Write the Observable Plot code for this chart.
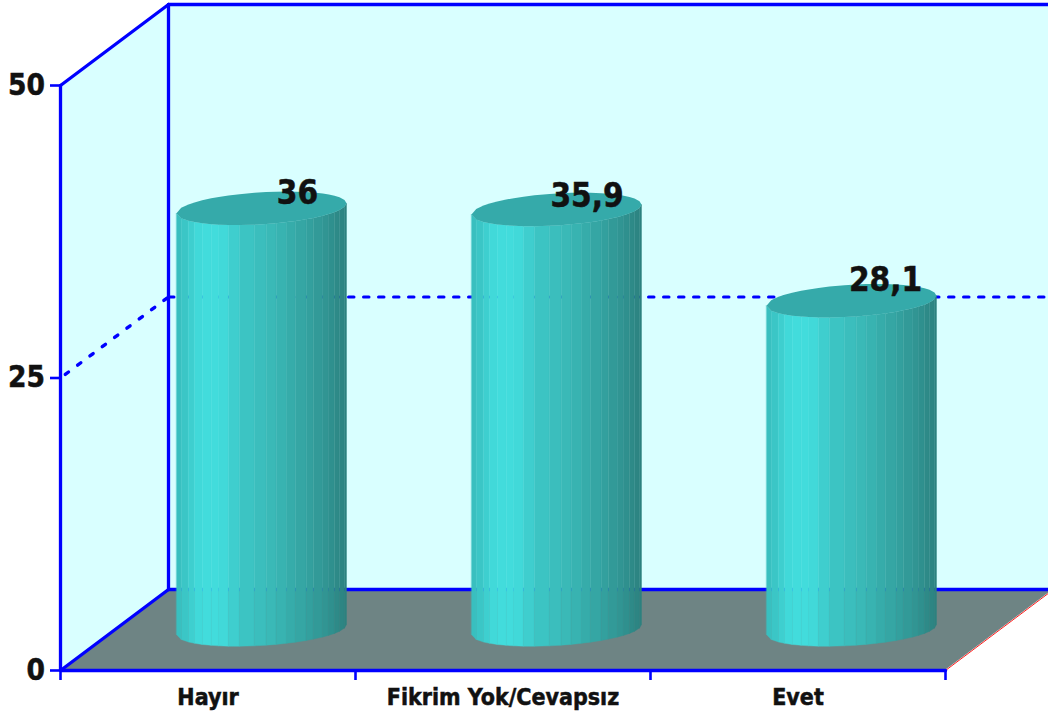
<!DOCTYPE html>
<html><head><meta charset="utf-8">
<script src="https://cdn.jsdelivr.net/npm/d3@7"></script>
<script src="https://cdn.jsdelivr.net/npm/@observablehq/plot@0.6"></script>
<style>html,body{margin:0;padding:0;background:#fff} svg text{stroke:#111;stroke-width:.5px}</style></head>
<body><div id="chart"></div>
<script>
const categories = ["Hayır", "Fikrim Yok/Cevapsız", "Evet"];
const values = [36, 35.9, 28.1];
const valueLabels = ["36", "35,9", "28,1"];
const yTicks = [0, 25, 50];
const xTicks = [0, 1, 2, 3];

// view / styling constants (oblique projection expressed in data units)
const depthX = 108 / 295, depthY = 81 / 11.7;
const radiusX = 85 / 295, radiusB = 16 / 11.7, shear = 5 / 11.7;
const labelOffsets = [[35.5, -15], [30, -14], [33.5, -21]];
const facetEdges = [0,4.7,12,18,25.7,34.7,42.3,52,63,78,89.7,99.7,110.3,119,129.7,137,146.3,152.3,158,163,168,170].map(d => d / 170);
const shade = d3.scaleLinear()
  .domain([0, 0.06, 0.14, 0.26, 0.38, 0.55, 0.75, 0.9, 1])
  .range(["#38bcbc", "#3cc8c8", "#42dcdc", "#42dcdc", "#3dc6c6", "#3abab8", "#34a4a2", "#309290", "#2c807e"]);
const blue = "#0000ff", wallColor = "#d9ffff", floorColor = "#6e8484", capColor = "#35aaaa";

const cyl = categories.map((c, i) => ({cx: i + 0.5 + depthX / 2, v: values[i], base: depthY / 2}));
const arc = (c, level, u, sign) => level + c.base + shear * u + sign * radiusB * Math.sqrt(Math.max(0, 1 - u * u));
const xOf = (c, u) => c.cx + radiusX * u;

const stripes = cyl.flatMap((c, i) => facetEdges.slice(0, -1).flatMap((f, j) => {
  const color = shade((f + facetEdges[j + 1]) / 2);
  return [f, facetEdges[j + 1]].map(g => {
    const u = 2 * g - 1;
    return {id: i * 100 + j, x: xOf(c, u), y1: arc(c, 0, u, -1), y2: arc(c, c.v, u, -1), color};
  });
}));
const caps = cyl.flatMap((c, i) => facetEdges.map(g => {
  const u = 2 * g - 1;
  return {id: i, x: xOf(c, u), y1: arc(c, c.v, u, -1), y2: arc(c, c.v, u, 1)};
}));

const backRight = 3 + depthX, backTop = 50 + depthY;
const seg = (a, b, c, d) => [[a, b], [c, d]];
const frame = {stroke: blue, strokeWidth: 3.3};

const plot = Plot.plot({
  width: 1048, height: 719,
  marginLeft: 60, marginRight: 103, marginTop: 85, marginBottom: 49,
  x: {type: "linear", domain: [0, 3]},
  y: {type: "linear", domain: [0, 50]},
  style: {fontFamily: "'DejaVu Sans Condensed', 'DejaVu Sans', sans-serif", color: "#111", background: "#fff"},
  marks: [
    // walls and floor
    Plot.area([{x: depthX, a: depthY, b: backTop}, {x: backRight, a: depthY, b: backTop}], {x1: "x", y1: "a", y2: "b", fill: wallColor}),
    Plot.area([{x: 0, a: 0, b: 50}, {x: depthX, a: depthY, b: backTop}], {x1: "x", y1: "a", y2: "b", fill: wallColor}),
    Plot.area([{x: 0, a: 0, b: 0}, {x: depthX, a: 0, b: depthY}, {x: 3, a: 0, b: depthY}, {x: backRight, a: depthY, b: depthY}], {x1: "x", y1: "a", y2: "b", fill: floorColor}),
    // dashed grid at 25
    Plot.line(seg(0, 25, depthX, 25 + depthY), {stroke: blue, strokeWidth: 3.4, strokeDasharray: "4,11.4", strokeDashoffset: -6}),
    Plot.line(seg(depthX, 25 + depthY, backRight, 25 + depthY), {stroke: blue, strokeWidth: 3, strokeDasharray: "5.5,9.5"}),
    // frame
    Plot.line(seg(3, 0, backRight, depthY), {stroke: "#ff2020", strokeWidth: 1}),
    Plot.line(seg(0, 50, 0, 0), frame),
    Plot.line(seg(0, 50, depthX, backTop), frame),
    Plot.line(seg(0, 0, depthX, depthY), frame),
    Plot.line(seg(depthX, depthY, depthX, backTop), frame),
    Plot.line(seg(depthX, backTop, backRight, backTop), frame),
    Plot.line(seg(depthX, depthY, backRight, depthY), frame),
    Plot.line(seg(0, 0, 3, 0), frame),
    // cylinders
    Plot.area(stripes, {x1: "x", y1: "y1", y2: "y2", z: "id", fill: "color", stroke: "color", strokeWidth: 0.4}),
    Plot.area(caps, {x1: "x", y1: "y1", y2: "y2", z: "id", fill: capColor}),
    // ticks
    Plot.ruleY(yTicks, {x1: -10 / 295, x2: 0, stroke: blue, strokeWidth: 2.6}),
    Plot.ruleX(xTicks, {y1: -10 / 11.7, y2: 0, stroke: blue, strokeWidth: 2.6}),
    // axes text
    Plot.axisY({ticks: yTicks, tickSize: 0, tickPadding: 15.5, fontSize: 29.5, fontWeight: "bold", label: null, tickFormat: d => String(d)}),
    Plot.axisX({ticks: [0.5, 1.5, 2.5], tickSize: 0, tickPadding: 18.5, fontSize: 23, fontWeight: "bold", label: null, tickFormat: d => categories[d - 0.5]}),
    // value labels
    ...cyl.map((c, i) => Plot.text([valueLabels[i]], {
      x: c.cx, y: arc(c, c.v, 0, 0), dx: labelOffsets[i][0], dy: labelOffsets[i][1],
      fontSize: 33, fontWeight: "bold", fill: "#111"
    }))
  ]
});
document.getElementById("chart").append(plot);
</script></body></html>
